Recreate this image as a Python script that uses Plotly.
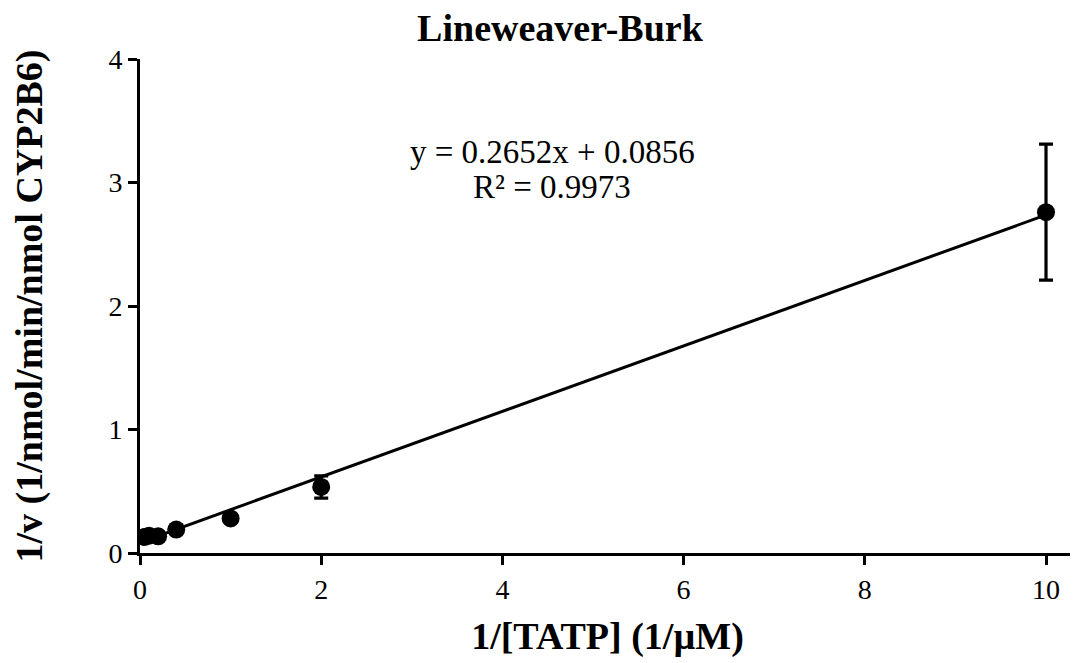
import plotly.graph_objects as go

# Data
inv_s = [0.05, 0.1, 0.2, 0.4, 1.0, 2.0, 10.0]           # 1/[TATP] (1/uM)
inv_v = [0.13, 0.14, 0.135, 0.19, 0.28, 0.535, 2.76]    # 1/v
inv_v_err = [0.02, 0.02, 0.02, 0.02, 0.03, 0.09, 0.55]  # error bar half-lengths

slope = 0.2652
intercept = 0.0856
r2 = 0.9973

x_ticks = [0, 2, 4, 6, 8, 10]
y_ticks = [0, 1, 2, 3, 4]

FONT = "Liberation Serif"

trend_x = [min(inv_s), max(inv_s)]
trend_y = [slope * x + intercept for x in trend_x]

fig = go.Figure()
fig.add_trace(go.Scatter(
    x=trend_x, y=trend_y, mode="lines",
    line=dict(color="black", width=3), showlegend=False, hoverinfo="skip"))
fig.add_trace(go.Scatter(
    x=inv_s, y=inv_v, mode="markers",
    marker=dict(color="black", size=18, symbol="circle"),
    error_y=dict(type="data", array=inv_v_err, visible=True,
                 color="black", thickness=3.2, width=7),
    showlegend=False))

fig.add_annotation(x=4.55, y=3.25, xref="x", yref="y", showarrow=False,
                   text=f"y = {slope}x + {intercept}",
                   font=dict(family=FONT, size=33, color="black"))
fig.add_annotation(x=4.55, y=2.96, xref="x", yref="y", showarrow=False,
                   text=f"R² = {r2}",
                   font=dict(family=FONT, size=33, color="black"))

fig.update_layout(
    width=1078, height=663,
    margin=dict(l=132, r=11, t=51, b=118, autoexpand=False),
    paper_bgcolor="white", plot_bgcolor="white",
    font=dict(family=FONT, color="black"),
    title=dict(text="Lineweaver-Burk", x=0.512, xanchor="center",
               y=0.970, yanchor="middle", automargin=False,
               font=dict(family=FONT, size=38, weight="bold", color="black")),
    xaxis=dict(range=[0, 10.32], tickvals=x_ticks, showgrid=False, zeroline=False,
               showline=True, linecolor="black", linewidth=3, automargin=False,
               ticks="outside", ticklen=9, tickwidth=3, tickcolor="black",
               tickfont=dict(family=FONT, size=28, color="black"),
               title=dict(text="1/[TATP] (1/µM)", standoff=19,
                          font=dict(family=FONT, size=38, weight="bold", color="black"))),
    yaxis=dict(range=[0, 4], tickvals=y_ticks, showgrid=False, zeroline=False,
               showline=True, linecolor="black", linewidth=3, automargin=False,
               ticks="outside", ticklen=9, tickwidth=3, tickcolor="black",
               tickfont=dict(family=FONT, size=28, color="black"),
               title=dict(text="1/v (1/nmol/min/nmol CYP2B6)", standoff=64,
                          font=dict(family=FONT, size=38, weight="bold", color="black"))),
)

fig.write_html("out.html")
